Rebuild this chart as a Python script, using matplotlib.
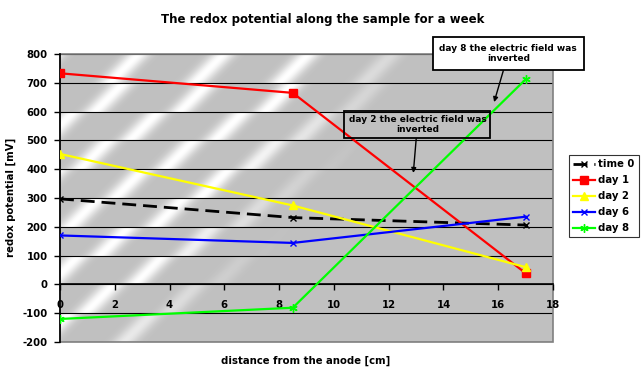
import numpy as np
import matplotlib
matplotlib.use("Agg")
import matplotlib.pyplot as plt
from matplotlib.patches import Rectangle

plt.rcParams['font.family'] = ['DejaVu Sans']
plt.rcParams['font.weight'] = 'bold'

# Measurement positions along the sample [cm]
distance = [0, 8.5, 17]

# Redox potential readings [mV]
time0 = [297, 232, 206]
day1 = [733, 665, 39]
day2 = [453, 274, 60]
day6 = [170, 144, 235]
day8 = [-120, -81, 712]

series_names = ['time 0', 'day 1', 'day 2', 'day 6', 'day 8']
x_ticks = [0, 2, 4, 6, 8, 10, 12, 14, 16, 18]
y_ticks = [-200, -100, 0, 100, 200, 300, 400, 500, 600, 700, 800]

W, H = 642, 367
fig = plt.figure(figsize=(W / 100, H / 100), dpi=100)
fig.patch.set_facecolor('white')

L, R, T, B = 60, 553, 54, 342
ax = fig.add_axes([L / W, (H - B) / H, (R - L) / W, (B - T) / H])
ax.set_xlim(0, 18)
ax.set_ylim(-200, 800)

# Silver gradient fill of the plot area: soft diagonal light streaks per grid band
pw, ph = R - L, B - T
xx, yy = np.meshgrid(np.arange(pw) + 0.5, np.arange(ph) + 0.5)
yb_abs = ph - yy                      # height from bottom in px
band_h = ph / 10.0
band = np.floor(yb_abs / band_h).astype(int)
yin = yb_abs - band * band_h
phases = np.array([20, 60, 10, 45, 75, 30, 65, 15, 50, 35, 0])
u = xx - 1.0 * yin + phases[np.clip(band, 0, 10)]
period = 85.0
streak = ((np.cos(2 * np.pi * u / period) + 1) / 2) ** 5
limit = 110 + 240 * yb_abs / ph
env = np.clip((limit - xx) / 110.0 + 0.25, 0, 1)
base = 192 / 255.0
img = base + (1.0 - base) * streak * env
rgb = np.dstack([img, img, img])
ax.imshow(rgb, extent=(0, 18, -200, 800), aspect='auto', zorder=0,
          interpolation='bilinear')

# Grid lines
for yv in y_ticks:
    ax.axhline(yv, color='black', lw=0.8, zorder=1)

# Plot area border
ax.add_patch(Rectangle((0, 0), 1, 1, transform=ax.transAxes, fill=False,
                       edgecolor='#808080', lw=1.2, zorder=1.5, clip_on=False))

lw = 1.6
ax.plot(distance, time0, color='black', lw=2.0, dashes=(5, 2.5),
        marker='x', ms=5, mew=1.0, label=series_names[0], zorder=3)
ax.plot(distance, day1, color='#FF0000', lw=lw, marker='s', ms=5.5,
        label=series_names[1], zorder=3)
ax.plot(distance, day2, color='#FFFF00', lw=lw, marker='^', ms=6,
        label=series_names[2], zorder=3)
ax.plot(distance, day6, color='#0000FF', lw=lw, marker='x', ms=5, mew=1.0,
        label=series_names[3], zorder=3)
ax.plot(distance, day8, color='#00FF00', lw=lw, marker=(6, 2, 0), ms=6,
        mew=1.0, label=series_names[4], zorder=3)

# Axes: y axis at x=0, x axis crossing at y=0
for s in ['top', 'right']:
    ax.spines[s].set_visible(False)
ax.spines['left'].set_color('black')
ax.spines['left'].set_linewidth(1.2)
ax.spines['bottom'].set_position(('data', 0))
ax.spines['bottom'].set_color('black')
ax.spines['bottom'].set_linewidth(1.2)
ax.spines['left'].set_zorder(2)
ax.spines['bottom'].set_zorder(2)

ax.set_xticks(x_ticks)
ax.set_yticks(y_ticks)
ax.set_xticklabels([str(v) for v in x_ticks])
ax.set_yticklabels([str(v) for v in y_ticks])
ax.tick_params(axis='x', direction='out', length=4, width=1, pad=7,
               labelsize=7.3)
ax.tick_params(axis='y', direction='out', length=4, width=1, pad=5,
               labelsize=7.3)
for t in ax.get_xticklabels() + ax.get_yticklabels():
    t.set_fontweight('bold')

fig.text(323 / W, 1 - 19 / H, 'The redox potential along the sample for a week',
         ha='center', va='center', fontsize=8.5, fontweight='bold')
fig.text(306 / W, 1 - 361 / H, 'distance from the anode [cm]',
         ha='center', va='center', fontsize=7.3, fontweight='bold')
fig.text(11 / W, 1 - 197 / H, 'redox potential [mV]', rotation=90,
         ha='center', va='center', fontsize=7.3, fontweight='bold')

# Annotations
ax.annotate('day 8 the electric field was\ninverted',
            xy=(15.85, 633), xytext=(16.37, 802), textcoords='data',
            ha='center', va='center', fontsize=6.5, fontweight='bold',
            bbox=dict(boxstyle='square,pad=0.75', fc='white', ec='black', lw=1.3),
            arrowprops=dict(arrowstyle='-|>', color='black', lw=1.0,
                            mutation_scale=7, shrinkA=0, shrinkB=0),
            annotation_clip=False, zorder=5)
ax.annotate('day 2 the electric field was\ninverted',
            xy=(12.9, 387), xytext=(13.05, 556), textcoords='data',
            ha='center', va='center', fontsize=6.5, fontweight='bold',
            bbox=dict(boxstyle='square,pad=0.45', fc='none', ec='black', lw=1.3),
            arrowprops=dict(arrowstyle='-|>', color='black', lw=1.0,
                            mutation_scale=7, shrinkA=0, shrinkB=0),
            annotation_clip=False, zorder=5)

leg = fig.legend(loc='upper left', bbox_to_anchor=(569 / W, 1 - 155 / H),
                 frameon=True, fancybox=False, fontsize=7.3,
                 handlelength=2.2, handletextpad=0.3, labelspacing=0.6,
                 borderpad=0.4, borderaxespad=0)
leg.get_frame().set_edgecolor('black')
leg.get_frame().set_linewidth(0.8)
for t in leg.get_texts():
    t.set_fontweight('bold')

fig.savefig('out.png', dpi=100)
